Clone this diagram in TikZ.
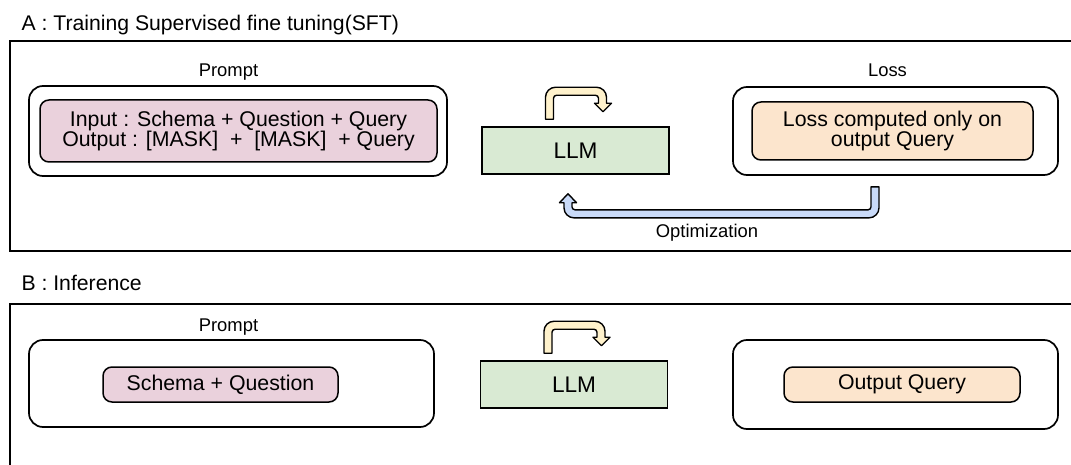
\documentclass[tikz,border=0pt]{standalone}
\usepackage{fontspec}
\setmainfont{Liberation Sans}
\usetikzlibrary{calc}

\definecolor{maskpink}{HTML}{EAD1DC}
\definecolor{llmgreen}{HTML}{D9EAD3}
\definecolor{losspeach}{HTML}{FCE5CD}
\definecolor{loopyellow}{HTML}{FFF2CC}
\definecolor{optblue}{HTML}{C9DAF8}

\begin{document}
\begin{tikzpicture}[x=1pt,y=1pt,
  frame/.style={draw,line width=1.7pt},
  group/.style={draw,line width=1.7pt,rounded corners=14pt,inner sep=0pt},
  inbox/.style={draw,line width=1.5pt,rounded corners=9pt,inner sep=0pt,align=center,
    font=\fontsize{21.3}{20.5}\selectfont},
  llm/.style={draw,line width=1.5pt,fill=llmgreen,inner sep=0pt,
    minimum width=187pt,minimum height=47pt,font=\fontsize{22.6}{26}\selectfont},
  title/.style={anchor=base west,font=\fontsize{21.2}{24}\selectfont},
  caption/.style={anchor=base,font=\fontsize{18.4}{22}\selectfont},
  fat/.style={draw,line width=1.4pt,line join=round}]
\clip (0,0) rectangle (1071,464);
\fill[white] (0,0) rectangle (1071,464);

% A : training
\node[title] (titleA) at (18,433) {A : Training Supervised fine tuning(SFT)};
\draw[frame] (10,213) rectangle (1100,423);
\node[caption] (promptA) at (228.5,387) {Prompt};
\node[group,minimum width=418pt,minimum height=90pt] (groupA) at (238,333) {};
\node[inbox,fill=maskpink,minimum width=397pt,minimum height=62pt] (inA) at (238.5,333)
  {Input : Schema + Question + Query\\Output : [MASK] \ + \ [MASK] \ + Query};
\node[llm] (llmA) at (575.5,313.5) {LLM};
\node[caption] (lossA) at (887.5,387) {Loss};
\node[group,minimum width=325pt,minimum height=88pt] (lossgroupA) at (895.5,333) {};
\node[inbox,fill=losspeach,minimum width=281pt,minimum height=58pt] (lossboxA) at (892.5,333)
  {Loss computed only on\\output Query};
\node[caption] (optA) at (707,226) {Optimization};

% B : inference
\node[title] (titleB) at (18,173) {B : Inference};
\draw[frame] (10,-20) rectangle (1100,160);
\node[caption] (promptB) at (228.5,132) {Prompt};
\node[group,minimum width=405pt,minimum height=87pt] (groupB) at (231.5,80.5) {};
\node[inbox,fill=maskpink,minimum width=235pt,minimum height=35pt] (inB) at (220.5,79.5)
  {Schema + Question};
\node[llm] (llmB) at (574,79.5) {LLM};
\node[group,minimum width=325pt,minimum height=89pt] (outgroupB) at (895.5,79.5) {};
\node[inbox,fill=losspeach,minimum width=236pt,minimum height=35pt] (outB) at (902,79.5)
  {Output Query};

% loop arrows over both LLM boxes
\foreach \m in {llmA,llmB}{
  \begin{scope}[shift={(\m.north)}]
    \filldraw[fat,fill=loopyellow] (-30,7) -- (-30,29) arc[start angle=180,end angle=90,radius=10]
      -- (21,39) arc[start angle=90,end angle=0,radius=10] -- (31,23) -- (36,23) -- (27.5,14.5)
      -- (19,23) -- (23,23) -- (23,28) arc[start angle=0,end angle=90,radius=3]
      -- (-19,31) arc[start angle=90,end angle=180,radius=3] -- (-22,7) -- cycle;
  \end{scope}
}

% feedback from the loss back to the model
\coordinate (optfrom) at ($(lossgroupA.south)+(-20.5,-11)$);
\coordinate (optto) at ($(llmA.south)+(-7.5,-19)$);
\filldraw[fat,fill=optblue] let \p1=(optfrom), \p2=(optto) in
  (\x1+4pt,\y1) -- (\x1+4pt,\y1-21pt) arc[start angle=0,end angle=-90,radius=10pt]
  -- (\x2+6pt,\y1-31pt) arc[start angle=270,end angle=180,radius=10pt]
  -- (\x2-4pt,\y2-9pt) -- (\x2-8.5pt,\y2-9pt) -- (\x2,\y2) -- (\x2+8.5pt,\y2-9pt) -- (\x2+4pt,\y2-9pt)
  -- (\x2+4pt,\y1-20pt) arc[start angle=180,end angle=270,radius=3pt]
  -- (\x1-7pt,\y1-23pt) arc[start angle=270,end angle=360,radius=3pt] -- (\x1-4pt,\y1) -- cycle;
\end{tikzpicture}
\end{document}
